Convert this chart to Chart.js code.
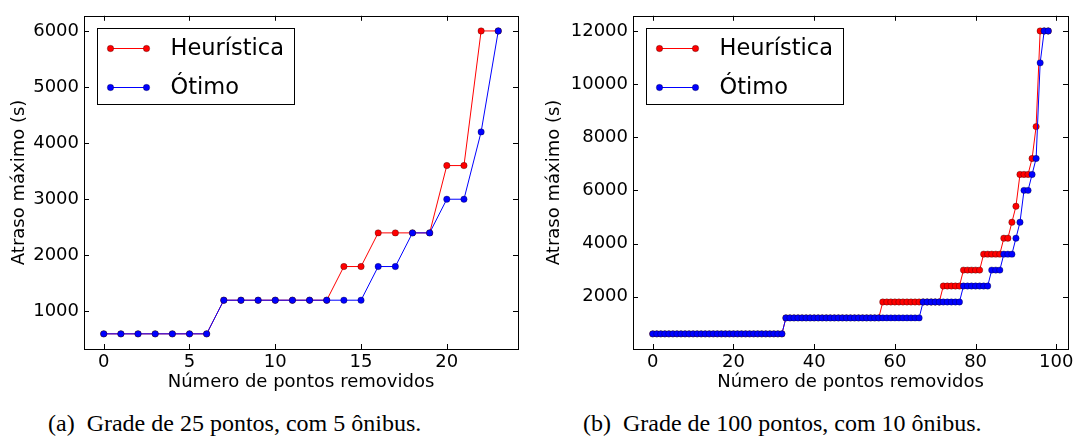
<!DOCTYPE html>
<html>
<head>
<meta charset="utf-8">
<script src="https://cdn.jsdelivr.net/npm/chart.js@4.4.1/dist/chart.umd.min.js"></script>
<style>
  body { margin: 0; background: #fff; width: 1077px; height: 441px; position: relative; overflow: hidden; }
  .box { position: absolute; top: 0; height: 400px; }
  #boxA { left: 0; width: 535px; }
  #boxB { left: 540px; width: 537px; }
  .cap { position: absolute; top: 410px; font-family: "Liberation Serif", "DejaVu Serif", serif; font-size: 24px; color: #000; white-space: nowrap; }
  #capA { left: 48px; }
  #capB { left: 583px; }
</style>
</head>
<body>
<div class="box" id="boxA"><canvas id="chartA"></canvas></div>
<div class="box" id="boxB"><canvas id="chartB"></canvas></div>
<div class="cap" id="capA">(a)&nbsp; Grade de 25 pontos, com 5 ônibus.</div>
<div class="cap" id="capB">(b)&nbsp; Grade de 100 pontos, com 10 ônibus.</div>
<script>
// (a) 25 pontos, 5 onibus
const heurA = [600, 600, 600, 600, 600, 600, 600, 1200, 1200, 1200, 1200, 1200, 1200, 1200,
  1800, 1800, 2400, 2400, 2400, 2400, 3600, 3600, 6000, 6000]
const otimoA = [600, 600, 600, 600, 600, 600, 600, 1200, 1200, 1200, 1200, 1200, 1200, 1200,
  1200, 1200, 1800, 1800, 2400, 2400, 3000, 3000, 4200, 6000]
const xTicksA = [0, 5, 10, 15, 20]
const yTicksA = [1000, 2000, 3000, 4000, 5000, 6000]

// (b) 100 pontos, 10 onibus
const heurB = [
  600, 600, 600, 600, 600, 600, 600, 600, 600, 600, 600,
  600, 600, 600, 600, 600, 600, 600, 600, 600, 600, 600,
  600, 600, 600, 600, 600, 600, 600, 600, 600, 600, 600,
  1200, 1200, 1200, 1200, 1200, 1200, 1200, 1200, 1200, 1200, 1200, 1200,
  1200, 1200, 1200, 1200, 1200, 1200, 1200, 1200, 1200, 1200, 1200, 1200,
  1800, 1800, 1800, 1800, 1800, 1800, 1800, 1800, 1800, 1800, 1800, 1800, 1800, 1800, 1800,
  2400, 2400, 2400, 2400, 2400,
  3000, 3000, 3000, 3000, 3000,
  3600, 3600, 3600, 3600, 3600,
  4200, 4200, 4800, 5400,
  6600, 6600, 6600, 7200, 8400,
  12000, 12000, 12000]
const otimoB = [
  600, 600, 600, 600, 600, 600, 600, 600, 600, 600, 600,
  600, 600, 600, 600, 600, 600, 600, 600, 600, 600, 600,
  600, 600, 600, 600, 600, 600, 600, 600, 600, 600, 600,
  1200, 1200, 1200, 1200, 1200, 1200, 1200, 1200, 1200, 1200, 1200, 1200,
  1200, 1200, 1200, 1200, 1200, 1200, 1200, 1200, 1200, 1200, 1200, 1200,
  1200, 1200, 1200, 1200, 1200, 1200, 1200, 1200, 1200, 1200,
  1800, 1800, 1800, 1800, 1800, 1800, 1800, 1800, 1800, 1800,
  2400, 2400, 2400, 2400, 2400, 2400, 2400,
  3000, 3000, 3000,
  3600, 3600, 3600,
  4200, 4800, 6000, 6000, 6600, 7200, 10800,
  12000, 12000]
const xTicksB = [0, 20, 40, 60, 80, 100]
const yTicksB = [2000, 4000, 6000, 8000, 10000, 12000]

const seriesNames = ['Heurística', 'Ótimo']
const FONT = "'DejaVu Sans', sans-serif"

// moldura, ticks para dentro e legenda dentro do grafico
const framePlugin = {
  id: 'frame',
  afterDraw(chart) {
    const ctx = chart.ctx
    const a = chart.chartArea
    const xs = chart.scales.x, ys = chart.scales.y
    ctx.save()
    ctx.strokeStyle = '#000'
    ctx.lineWidth = 1
    ctx.strokeRect(Math.round(a.left) + 0.5, Math.round(a.top) + 0.5,
      Math.round(a.right - a.left), Math.round(a.bottom - a.top))
    ctx.beginPath()
    xs.ticks.forEach(t => {
      const px = Math.round(xs.getPixelForValue(t.value)) + 0.5
      ctx.moveTo(px, a.bottom); ctx.lineTo(px, a.bottom - 5)
      ctx.moveTo(px, a.top); ctx.lineTo(px, a.top + 5)
    })
    ys.ticks.forEach(t => {
      const py = Math.round(ys.getPixelForValue(t.value)) + 0.5
      ctx.moveTo(a.left, py); ctx.lineTo(a.left + 5, py)
      ctx.moveTo(a.right, py); ctx.lineTo(a.right - 5, py)
    })
    ctx.stroke()

    // legenda
    const lx = Math.round(a.left) + 13.5, ly = Math.round(a.top) + 12.5
    ctx.fillStyle = '#fff'
    ctx.fillRect(lx, ly, 197, 76)
    ctx.strokeStyle = '#000'
    ctx.strokeRect(lx, ly, 197, 76)
    ctx.font = '22.5px ' + FONT
    ctx.textBaseline = 'middle'
    chart.data.datasets.forEach((ds, i) => {
      const cy = ly + 20 + i * 39
      ctx.strokeStyle = ds.borderColor
      ctx.lineWidth = 1
      ctx.beginPath(); ctx.moveTo(lx + 13, cy); ctx.lineTo(lx + 49, cy); ctx.stroke()
      ;[lx + 13, lx + 49].forEach(px => {
        ctx.beginPath(); ctx.arc(px, cy, 3.2, 0, Math.PI * 2)
        ctx.fillStyle = ds.pointBackgroundColor; ctx.fill()
        ctx.strokeStyle = 'rgba(0,0,0,0.6)'; ctx.lineWidth = 0.5; ctx.stroke()
      })
      ctx.fillStyle = '#000'
      ctx.fillText(ds.label, lx + 73, cy + 1)
    })
    ctx.restore()
  }
}

function makeChart(id, heur, otimo, xTicks, yTicks, lim, yw, titlePad, rightPad) {
  const toPts = arr => arr.map((v, i) => ({ x: i, y: v }))
  const ds = (label, data, color, order) => ({
    label, data: toPts(data), order,
    borderColor: color, borderWidth: 1,
    pointBackgroundColor: color, pointBorderColor: 'rgba(0,0,0,0.6)', pointBorderWidth: 0.5,
    pointRadius: 3.2, tension: 0
  })
  return new Chart(document.getElementById(id), {
    type: 'line',
    data: {
      datasets: [
        ds(seriesNames[0], heur, '#ff0000', 1),
        ds(seriesNames[1], otimo, '#0000ff', 0)
      ]
    },
    options: {
      responsive: true, maintainAspectRatio: false, animation: false,
      layout: { padding: { top: 13, right: rightPad, bottom: 0, left: 0 } },
      plugins: { legend: { display: false }, tooltip: { enabled: false } },
      scales: {
        x: {
          type: 'linear', min: lim[0], max: lim[1],
          afterBuildTicks: s => { s.ticks = xTicks.map(v => ({ value: v })) },
          afterFit: s => { s.height = 51 },
          grid: { display: false, drawTicks: false },
          border: { display: false },
          ticks: { color: '#000', padding: 3, font: { family: FONT, size: 18 }, maxRotation: 0,
            callback: v => String(v) },
          title: { display: true, text: 'Número de pontos removidos', color: '#000',
            font: { family: FONT, size: 18 }, padding: { top: 0, bottom: 7 } }
        },
        y: {
          min: lim[2], max: lim[3],
          afterBuildTicks: s => { s.ticks = yTicks.map(v => ({ value: v })) },
          afterFit: s => { s.width = yw },
          grid: { display: false, drawTicks: false },
          border: { display: false },
          ticks: { color: '#000', padding: 5, font: { family: FONT, size: 18 },
            callback: v => String(v) },
          title: { display: true, text: 'Atraso máximo (s)', color: '#000',
            font: { family: FONT, size: 18 }, padding: { top: titlePad, bottom: 0 } }
        }
      }
    },
    plugins: [framePlugin]
  })
}

makeChart('chartA', heurA, otimoA, xTicksA, yTicksA, [-1.15, 24.15, 330, 6270], 84, 9, 17)
makeChart('chartB', heurB, otimoB, xTicksB, yTicksB, [-4.9, 102.9, 30, 12570], 93, 4, 9)
</script>
</body>
</html>
